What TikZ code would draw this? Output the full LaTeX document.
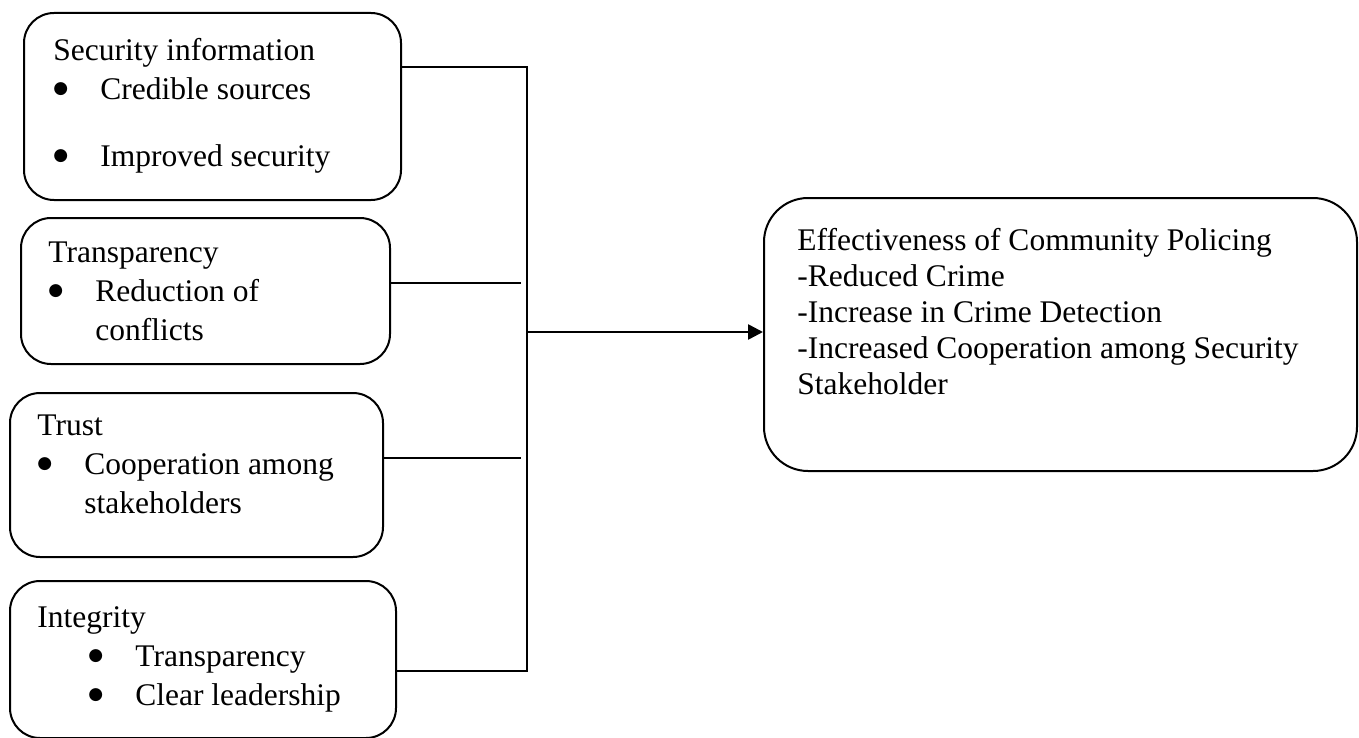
\documentclass[tikz,border=0pt]{standalone}
\usepackage{fontspec}
\setmainfont{Liberation Serif}
\newfontfamily\symbolfont{DejaVu Sans}
\usetikzlibrary{arrows.meta,positioning}

\newcommand{\itembullet}{\makebox[23.5pt][l]{\raisebox{2.8pt}{\symbolfont\fontsize{8.5}{8.5}\selectfont ●}}}

\begin{document}
\begin{tikzpicture}
  [x=0.5pt,y=-0.5pt,>={Triangle[length=7.5pt,width=7.5pt]},
   factor/.style={rectangle,draw,line width=1pt,rounded corners=15pt,anchor=north west,inner sep=0pt},
   outcome/.style={factor,rounded corners=22pt},
   factor text/.style={inner sep=0pt,align=left,font=\fontsize{15.75}{19.5}\selectfont},
   outcome text/.style={inner sep=0pt,align=left,font=\fontsize{15.75}{18}\selectfont},
   link/.style={line width=0.9pt},
   arrow link/.style={line width=1.3pt,->}]

  \useasboundingbox (0,0) rectangle (1359,738);

  % Factors on the left
  \node [factor,minimum width=188.5pt,minimum height=93.5pt] (info)   at (23,12)  {};
  \node [factor,minimum width=184.5pt,minimum height=73pt]   (transp) at (20,217) {};
  \node [factor,minimum width=186.5pt,minimum height=82pt]   (trust)  at (9,392)  {};
  \node [factor,minimum width=193pt,minimum height=78.5pt]   (integ)  at (9,580)  {};

  \node [factor text,below right=10.35pt and 15pt of info.north west] (info text)
    {\strut Security information\\\itembullet Credible sources\\[14pt]\itembullet Improved security};
  \node [factor text,below right=8.85pt and 14pt of transp.north west] (transp text)
    {\strut Transparency\\\itembullet Reduction of\\\hspace*{23.5pt}conflicts};
  \node [factor text,below right=7.85pt and 14pt of trust.north west] (trust text)
    {\strut Trust\\\itembullet Cooperation among\\\hspace*{23.5pt}stakeholders};
  \node [factor text,below right=9.85pt and 14pt of integ.north west] (integ text)
    {\strut Integrity\\\hspace*{25.5pt}\itembullet Transparency\\\hspace*{25.5pt}\itembullet Clear leadership};

  % Outcome on the right
  \node [outcome,minimum width=296.5pt,minimum height=136.5pt] (effect) at (763,197) {};
  \node [outcome text,below right=14pt and 17pt of effect.north west] (effect text)
    {\strut Effectiveness of Community Policing\\-Reduced Crime\\-Increase in Crime Detection\\-Increased Cooperation among Security\\Stakeholder};

  % Joining lines
  \coordinate (top join)    at (527,67);
  \coordinate (bottom join) at (527,671);
  \coordinate (mid join)    at (527,332);
  \coordinate (transp end)  at (521,283);
  \coordinate (trust end)   at (521,458);

  \draw [link] (info.east |- top join) -- (top join) -- (bottom join) -- (integ.east |- bottom join);
  \draw [link] (transp.east |- transp end) -- (transp end);
  \draw [link] (trust.east |- trust end) -- (trust end);
  \draw [arrow link] (mid join) -- (effect.west |- mid join);

\end{tikzpicture}
\end{document}
